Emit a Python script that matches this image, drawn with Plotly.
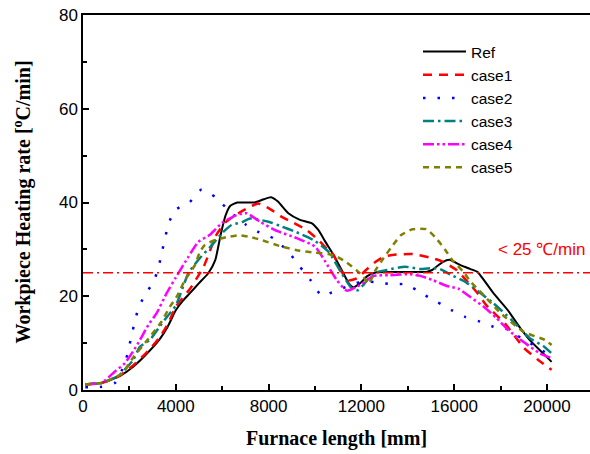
import plotly.graph_objects as go

# ---------------- data ----------------
x_ref = [100, 800, 1400, 1600, 2150, 2800, 3300, 3650, 4000, 4300, 4600, 5000, 5400, 5700, 5950, 6150, 6350, 6650,
         7000, 7400, 7800, 8100, 8400, 8850, 9350, 9850, 10150, 10450, 10800, 11150, 11450, 11650, 11950, 12250,
         12650, 13500, 14800, 15050, 15500, 15800, 16250, 16700, 17000, 17700, 18300, 18850, 19250, 19750, 20200]
y_ref = [1.2, 1.5, 2.6, 3.0, 4.9, 8.0, 10.8, 13.5, 17.0, 19.0, 20.6, 22.8, 24.9, 27.7, 33.5, 37.3, 39.3, 40.0,
         40.0, 40.0, 40.7, 41.1, 40.2, 37.7, 36.3, 35.6, 34.1, 31.6, 28.8, 25.6, 22.8, 21.9, 22.8, 24.3,
         25.1, 25.2, 25.2, 25.6, 27.3, 27.8, 26.7, 25.8, 25.2, 20.6, 17.1, 13.2, 10.7, 8.2, 6.0]

x_case1 = [100, 800, 1400, 1600, 2150, 2800, 3300, 3700, 4000, 4600, 5200, 5750, 6150, 6700, 7100, 7550, 8000,
           8550, 9100, 9650, 10100, 10500, 10800, 11100, 11450, 11800, 12200, 12600, 13000, 13500, 14200, 15000,
           15500, 16100, 16500, 17000, 17400, 18200, 19000, 19600, 20200]
y_case1 = [1.2, 1.5, 2.6, 3.1, 5.2, 8.3, 11.2, 14.5, 17.8, 21.5, 26.3, 33.1, 35.8, 37.7, 38.8, 39.8, 38.8,
           37.0, 35.6, 34.1, 32.2, 30.2, 28.8, 25.6, 23.4, 23.8, 25.6, 27.3, 28.5, 28.9, 29.0, 28.2,
           27.4, 25.6, 23.5, 20.7, 18.0, 14.1, 9.0, 6.5, 4.3]

x_case2 = [100, 800, 1400, 1700, 1930, 2055, 2200, 2356, 2630, 3030, 3250, 3390, 3530, 3680, 3970, 4600, 5115,
           5740, 6340, 6980, 7600, 8200, 8850, 9350, 9830, 10290, 10860, 11500, 12050, 12730, 13300, 13960,
           14600, 15230, 15860, 16470, 17110, 17690, 18330, 18910, 19560, 20200]
y_case2 = [0.6, 0.7, 1.6, 4.5, 7.8, 10.8, 13.9, 16.9, 20.0, 23.0, 26.0, 29.2, 32.2, 35.4, 38.4, 40.1, 42.8,
           41.0, 38.0, 35.4, 33.6, 32.4, 29.5, 26.3, 23.3, 20.1, 21.1, 22.3, 23.2, 22.9, 22.6, 22.5,
           20.6, 18.9, 17.1, 15.6, 14.6, 13.5, 12.9, 11.0, 9.2, 7.1]

x_case3 = [100, 800, 1400, 1600, 2150, 2450, 2900, 3300, 3650, 4000, 4550, 5050, 5500, 6000, 6400, 6850, 7200,
           7990, 8500, 9140, 9930, 10580, 11150, 11580, 11850, 12100, 12510, 13090, 13880, 14530, 15100, 15390,
           15890, 16470, 17100, 17690, 18480, 19270, 19840, 20200]
y_case3 = [1.2, 1.5, 2.7, 3.3, 6.3, 9.2, 10.8, 13.5, 15.8, 18.0, 25.0, 28.2, 30.6, 33.5, 35.2, 35.8, 36.6,
           35.9, 35.0, 33.8, 32.0, 29.5, 24.9, 21.7, 21.3, 22.5, 24.9, 25.6, 26.3, 25.8, 26.0, 25.8,
           24.5, 23.1, 20.8, 18.5, 14.9, 11.0, 9.4, 7.8]

x_case4 = [100, 800, 1365, 1800, 2155, 2460, 2820, 3175, 3600, 4000, 4540, 4970, 5470, 5980, 6620, 7060, 7630,
           8280, 9210, 10000, 10580, 10930, 11370, 11940, 12510, 13230, 14100, 14500, 15100, 15680, 16180,
           16680, 17260, 17830, 18330, 18980, 19700, 20200]
y_case4 = [1.2, 1.5, 3.9, 5.7, 8.2, 10.7, 13.9, 16.4, 20.6, 24.0, 28.4, 31.6, 33.1, 35.6, 37.3, 37.7, 35.9,
           34.1, 32.4, 30.6, 26.3, 23.5, 21.2, 22.4, 24.3, 24.5, 24.7, 24.4, 23.4, 22.2, 21.6,
           19.9, 17.8, 15.3, 12.8, 10.3, 7.8, 6.8]

x_case5 = [100, 800, 1400, 1700, 2170, 2750, 3390, 3750, 4040, 4400, 4830, 5040, 5260, 5700, 6190, 6700, 7130,
           7560, 8560, 9350, 10000, 10580, 11000, 11370, 11800, 12080, 12300, 12600, 12950, 13300, 13700, 14200,
           14800, 15200, 15600, 15950, 16400, 16700, 17200, 18000, 19000, 19900, 20200]
y_case5 = [1.2, 1.5, 2.7, 3.6, 7.0, 10.5, 14.6, 17.8, 19.9, 23.5, 26.7, 29.5, 31.0, 32.0, 32.6, 33.0, 32.7,
           32.2, 30.6, 29.7, 29.3, 29.0, 28.3, 27.2, 25.5, 24.2, 22.6, 25.5, 28.1, 30.5, 33.0, 34.3,
           34.3, 32.5, 30.0, 27.5, 25.2, 23.1, 20.6, 16.4, 12.4, 10.7, 9.6]

threshold = 25
threshold_label = "< 25 \u2103/min"
x_ticks = [0, 4000, 8000, 12000, 16000, 20000]
x_tick_labels = ["0", "4000", "8000", "12000", "16000", "20000"]
y_ticks = [0, 20, 40, 60, 80]
y_tick_labels = ["0", "20", "40", "60", "80"]

series = [
    ("Ref", x_ref, y_ref, "#000000", "solid", 2),
    ("case1", x_case1, y_case1, "#FF0000", "9px,7px", 2.5),
    ("case2", x_case2, y_case2, "#0000FF", "2.5px,12px", 2.5),
    ("case3", x_case3, y_case3, "#008080", "11px,4px,2.5px,4px", 2.5),
    ("case4", x_case4, y_case4, "#FF00FF", "11px,3px,2.5px,3px,2.5px,3px", 2.5),
    ("case5", x_case5, y_case5, "#808000", "6px,5px", 2.5),
]

W, H = 590, 454
ML, MR, MT, MB = 83, 0, 15, 64
plot_w = W - ML - MR
x_max = 20000 * plot_w / 464.0

fig = go.Figure()
for name, xs, ys, col, dash, lw in series:
    fig.add_trace(go.Scatter(
        x=xs, y=ys, name=name, mode="lines",
        line=dict(color=col, dash=dash, width=lw, shape="spline", smoothing=0.5),
    ))

fig.add_hline(y=threshold, line=dict(color="#FF0000", width=1.5, dash="10px,4px,2px,4px"))

fig.add_annotation(x=17800, y=threshold + 5.0, xref="x", yref="y", text=threshold_label,
                   showarrow=False, xanchor="left", yanchor="middle",
                   font=dict(family="Liberation Sans, Arial", size=17, color="#FF0000"))

fig.add_annotation(x=0.5, y=(390 - 438) / 375.0, xref="paper", yref="paper",
                   text="<b>Furnace length [mm]</b>", showarrow=False,
                   xanchor="center", yanchor="middle",
                   font=dict(family="Liberation Serif, Times New Roman", size=20, color="#000000"))
fig.add_annotation(x=-(ML - 22) / plot_w, y=0.5, xref="paper", yref="paper",
                   text="<b>Workpiece Heating rate [<sup>o</sup>C/min]</b>", showarrow=False,
                   textangle=-90, xanchor="center", yanchor="middle",
                   font=dict(family="Liberation Serif, Times New Roman", size=20, color="#000000"))

axis_font = dict(family="Liberation Sans, Arial", size=17, color="#000000")
fig.update_layout(
    width=W, height=H,
    margin=dict(l=ML, r=MR, t=MT, b=MB, pad=0),
    paper_bgcolor="white", plot_bgcolor="white",
    showlegend=True,
    legend=dict(x=(418 - ML) / plot_w, y=(390 - 35) / 375.0, xanchor="left", yanchor="top",
                bgcolor="rgba(0,0,0,0)", font=dict(family="Liberation Sans, Arial", size=15.5, color="#000000"),
                itemwidth=43, tracegroupgap=0),
    xaxis=dict(range=[0, x_max], tickvals=x_ticks, ticktext=x_tick_labels, ticks="inside", ticklen=6,
               tickwidth=1.5, tickcolor="#000000", showline=True, linecolor="#000000", linewidth=1.5,
               mirror=True, showgrid=False, zeroline=False, tickfont=axis_font,
               minor=dict(dtick=2000, tick0=0, ticks="inside", ticklen=4, tickwidth=1.5, tickcolor="#000000")),
    yaxis=dict(range=[0, 80], tickvals=y_ticks, ticktext=y_tick_labels, ticks="inside", ticklen=6,
               tickwidth=1.5, tickcolor="#000000", showline=True, linecolor="#000000", linewidth=1.5,
               showgrid=False, zeroline=False, tickfont=axis_font,
               minor=dict(dtick=10, tick0=0, ticks="inside", ticklen=4, tickwidth=1.5, tickcolor="#000000")),
)

fig.write_html("out.html")
